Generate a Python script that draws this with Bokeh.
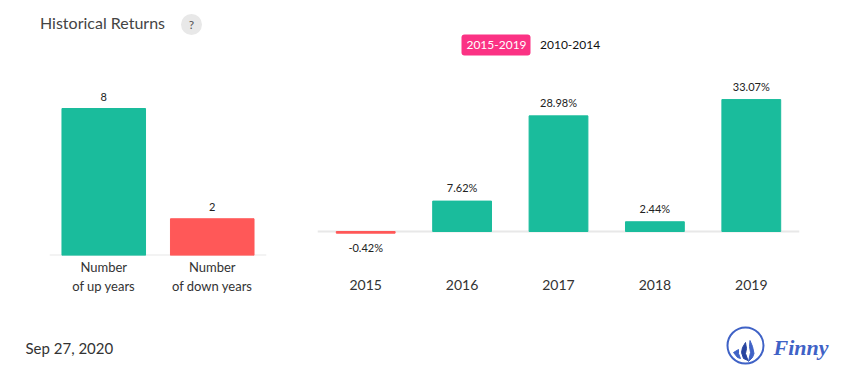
import numpy as np
from bokeh.embed import file_html
from bokeh.resources import INLINE
from bokeh.layouts import column, row
from bokeh.plotting import figure
from bokeh.models import ColumnDataSource, FactorRange, Range1d, Span, BoxAnnotation
from bokeh.core.properties import value

count_labels = ["Number\nof up years", "Number\nof down years"]
count_values = [8, 2]
years = ["2015", "2016", "2017", "2018", "2019"]
returns = [-0.42, 7.62, 28.98, 2.44, 33.07]
return_texts = ["-0.42%", "7.62%", "28.98%", "2.44%", "33.07%"]

TEAL, RED = "#1abc9c", "#ff5858"
PINK, BLUE = "#fb3284", "#3f62c6"
FONT = "Lato"
W_LEFT, W_RIGHT = 300, 555
H_TOP, H_MID, H_BOT = 70, 245, 67


def base(width, factors, left, right, bottom, ymin, ymax):
    p = figure(width=width, height=H_MID, output_backend="svg", toolbar_location=None,
               x_range=FactorRange(*factors, factor_padding=0, range_padding=0),
               y_range=Range1d(ymin, ymax), min_border_left=left, min_border_right=right,
               min_border_top=0, min_border_bottom=bottom)
    p.outline_line_color = None
    p.grid.visible = False
    p.yaxis.visible = False
    p.xaxis.axis_line_color = None
    p.xaxis.major_tick_line_color = None
    p.xaxis.minor_tick_line_color = None
    p.xaxis.major_label_text_font = FONT
    p.xaxis.major_label_text_color = "#333333"
    p.xaxis.major_label_orientation = "horizontal"
    p.add_layout(Span(location=0, dimension="width", line_color="#e8e8e8", line_width=2, level="underlay"))
    return p


def strip(height, y0):
    # full-frame strip whose data coordinates are page pixels, for header and footer decoration
    p = figure(width=W_LEFT + W_RIGHT, height=height, output_backend="svg", toolbar_location=None,
               x_range=Range1d(0, W_LEFT + W_RIGHT), y_range=Range1d(y0 + height, y0),
               min_border_left=0, min_border_right=0, min_border_top=0, min_border_bottom=0)
    p.outline_line_color = None
    p.grid.visible = False
    p.axis.visible = False
    return p


def text(p, x, y, s, size, color="#333333", align="left", font=FONT, style="normal"):
    p.text(x=[x], y=[y], text=[s], text_font=value(font), text_font_size=value(size),
           text_font_style=style, text_color=color, text_align=align, text_baseline="middle")


# header
top = strip(H_TOP, 0)
text(top, 39.5, 22, "Historical Returns", "16px", "#444444")
top.ellipse(x=[191], y=[24], width=[21], height=[21], fill_color="#e8e8e8", line_color=None)
text(top, 191, 24, "?", "12px", "#555555", "center")
top.add_layout(BoxAnnotation(left=461, right=530, top=34, bottom=55, fill_color=PINK, fill_alpha=1,
                             line_color=None, border_radius=3, level="underlay"))
text(top, 496, 44, "2015-2019", "12px", "#ffffff", "center")
text(top, 539.5, 44, "2010-2014", "12px", "#111111")

# left panel: zero at page y 255, 18.375 px per year
left = base(W_LEFT, count_labels, 49, 34, 60, 0, 185 / 18.375)
left.xaxis.major_label_text_font_size = "13px"
left.xaxis.major_label_standoff = -3
src_l = ColumnDataSource(dict(x=count_labels, v=count_values, t=[str(v) for v in count_values],
                              c=[TEAL, RED]))
left.vbar(x="x", top="v", width=0.77, color="c", source=src_l)
left.text(x="x", y="v", text="t", source=src_l, y_offset=-8, text_align="center",
          text_baseline="bottom", text_font=value(FONT), text_font_size=value("11px"), text_color="#222222")

# right panel: zero at page y 231, 3.99 px per percent; row aligns its frame bottom with the left panel
right = base(W_RIGHT, years, 17, 56, 60, -24 / 3.99, 161 / 3.99)
right.xaxis.major_label_text_font_size = "14px"
right.xaxis.major_label_standoff = 18
src_r = ColumnDataSource(dict(x=years, v=returns, t=return_texts,
                              c=[TEAL if v >= 0 else RED for v in returns],
                              off=[-7 if v >= 0 else 21 for v in returns],
                              zero=[0] * len(years)))
right.vbar(x="x", top="v", bottom="zero", width=0.61, color="c", source=src_r)
right.text(x="x", y="v", text="t", source=src_r, y_offset="off", text_align="center",
           text_baseline="bottom", text_font=value(FONT), text_font_size=value("11px"), text_color="#222222")

# footer
bot = strip(H_BOT, 315)
text(bot, 25, 347, "Sep 27, 2020", "15px", "#333333")
bot.ellipse(x=[745], y=[345], width=[36], height=[36], fill_color=None, line_color=BLUE, line_width=2)
bot.patch([749.5, 752, 753.5, 752, 748, 750, 749], [340, 346, 353, 357, 361, 352, 346], color=BLUE)
bot.patch([745, 746, 745, 747.5, 743, 741, 742], [342, 348, 353, 360, 358, 352, 347], color="#27449f")
bot.patch([738, 738, 740, 737, 733], [349, 353, 358, 357, 352], color=BLUE)
text(bot, 773, 347, "Finny", "22px", BLUE, font="Liberation Serif", style="bold italic")

layout = column(top, row(left, right, spacing=0), bot, spacing=0)
open("out.html", "w").write(file_html(layout, INLINE))
